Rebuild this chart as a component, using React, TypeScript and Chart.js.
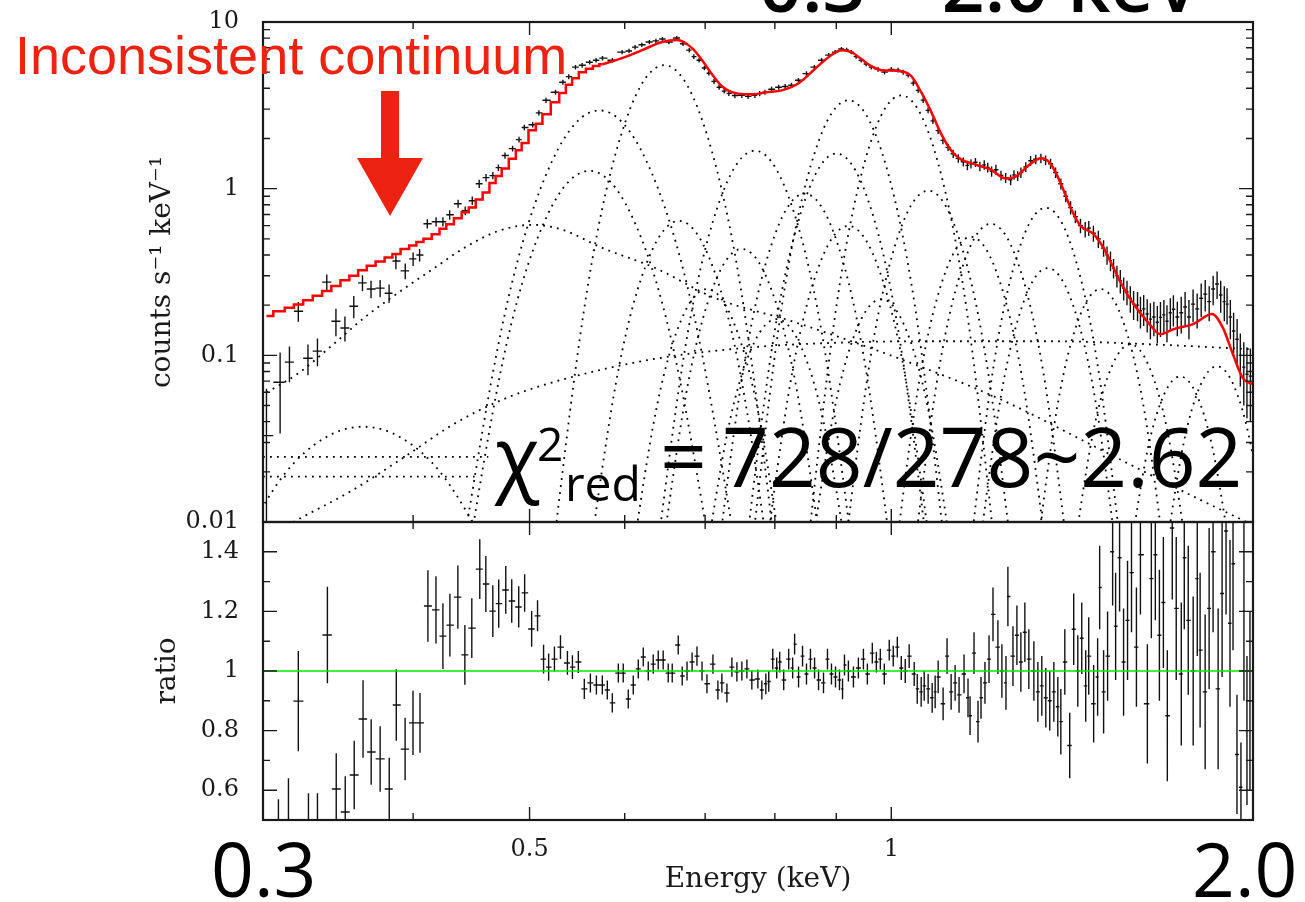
import React, { useEffect, useRef } from 'react';
import { Chart, registerables } from 'chart.js';

Chart.register(...registerables);

// ---------------- axis ranges & ticks ----------------
const energyMin = 0.3;
const energyMax = 2.0;
const rateMin = 0.01;
const rateMax = 10;
const ratioMin = 0.5;
const ratioMax = 1.5;

const energyTickValues = [0.5, 1];
const energyTickLabels = ['0.5', '1'];
const energyMinorTicks = [0.4, 0.6, 0.7, 0.8, 0.9];
const rateTickValues = [0.01, 0.1, 1, 10];
const rateTickLabels = ['0.01', '0.1', '1', '10'];
const rateMinorTicks = [0.02, 0.03, 0.04, 0.05, 0.06, 0.07, 0.08, 0.09, 0.2, 0.3, 0.4, 0.5, 0.6, 0.7, 0.8, 0.9, 2, 3, 4, 5, 6, 7, 8, 9];
const ratioTickValues = [0.6, 0.8, 1, 1.2, 1.4];
const ratioTickLabels = ['0.6', '0.8', '1', '1.2', '1.4'];
const ratioMinorTicks = [0.7, 0.9, 1.1, 1.3];

// ---------------- spectrum: [energy keV, counts s^-1 keV^-1, error] ----------------
const spectrumPoints = [
  [0.302, 0.033, 0.03], [0.310, 0.069, 0.035], [0.3156, 0.091, 0.022], [0.321, 0.184, 0.025],
  [0.327, 0.096, 0.02], [0.333, 0.106, 0.02], [0.339, 0.275, 0.03], [0.345, 0.160, 0.03],
  [0.351, 0.146, 0.025], [0.357, 0.197, 0.03], [0.363, 0.272, 0.03], [0.369, 0.250, 0.03],
  [0.3755, 0.253, 0.03], [0.382, 0.236, 0.03], [0.387, 0.368, 0.04], [0.394, 0.321, 0.035],
  [0.400, 0.379, 0.035], [0.405, 0.400, 0.035], [0.411, 0.616, 0.04], [0.418, 0.633, 0.04],
  [0.4235, 0.633, 0.04], [0.429, 0.697, 0.045], [0.436, 0.812, 0.045], [0.442, 0.737, 0.045],
  [0.448, 0.847, 0.05], [0.454, 1.07, 0.06], [0.460, 1.165, 0.06], [0.466, 1.198, 0.06],
  [0.471, 1.338, 0.06], [0.477, 1.58, 0.07], [0.484, 1.74, 0.07], [0.490, 1.97, 0.08],
  [0.495, 2.33, 0.09], [0.503, 2.42, 0.09], [0.509, 2.85, 0.1], [0.516, 3.39, 0.12],
  [0.5255, 3.79, 0.13], [0.533, 4.35, 0.15], [0.539, 4.7, 0.16], [0.546, 5.36, 0.17],
  [0.553, 5.5, 0.18], [0.561, 5.74, 0.18], [0.568, 5.9, 0.18], [0.575, 6.07, 0.19],
  [0.586, 5.9, 0.19], [0.597, 6.6, 0.2], [0.605, 6.7, 0.2], [0.612, 7.07, 0.22],
  [0.620, 7.3, 0.22], [0.629, 7.58, 0.22], [0.637, 7.7, 0.23], [0.645, 7.9, 0.23],
  [0.653, 7.58, 0.23], [0.663, 8.01, 0.24], [0.671, 7.4, 0.23], [0.679, 6.78, 0.21],
  [0.685, 6.2, 0.2], [0.692, 5.9, 0.19], [0.699, 5.3, 0.17], [0.705, 4.93, 0.16],
  [0.712, 4.4, 0.15], [0.719, 4.06, 0.14], [0.726, 3.85, 0.13], [0.7325, 3.73, 0.13],
  [0.741, 3.62, 0.13], [0.751, 3.63, 0.13], [0.760, 3.58, 0.13], [0.770, 3.63, 0.13],
  [0.777, 3.72, 0.13], [0.785, 3.79, 0.13], [0.795, 3.95, 0.14], [0.806, 4.06, 0.14],
  [0.816, 4.10, 0.14], [0.826, 4.17, 0.15], [0.837, 4.47, 0.15], [0.850, 4.9, 0.16],
  [0.863, 5.36, 0.17], [0.875, 5.9, 0.18], [0.887, 6.33, 0.19], [0.898, 6.6, 0.2],
  [0.909, 6.88, 0.2], [0.918, 6.8, 0.2], [0.926, 6.6, 0.2], [0.935, 6.2, 0.19],
  [0.944, 5.9, 0.18], [0.953, 5.6, 0.18], [0.9625, 5.36, 0.17], [0.975, 5.2, 0.17],
  [0.987, 5.0, 0.16], [1.000, 5.2, 0.17], [1.013, 5.14, 0.17], [1.023, 5.0, 0.17],
  [1.033, 4.8, 0.16], [1.043, 4.3, 0.15], [1.053, 3.89, 0.14], [1.063, 3.4, 0.13],
  [1.073, 2.95, 0.12], [1.083, 2.55, 0.11], [1.094, 2.23, 0.1], [1.104, 1.95, 0.1],
  [1.115, 1.77, 0.09], [1.126, 1.62, 0.09], [1.137, 1.52, 0.09], [1.148, 1.45, 0.09],
  [1.157, 1.38, 0.09], [1.165, 1.41, 0.09], [1.175, 1.44, 0.09], [1.185, 1.36, 0.09],
  [1.195, 1.39, 0.09], [1.203, 1.34, 0.09], [1.212, 1.27, 0.09], [1.222, 1.30, 0.09],
  [1.234, 1.20, 0.08], [1.245, 1.16, 0.08], [1.257, 1.13, 0.08], [1.265, 1.21, 0.08],
  [1.274, 1.19, 0.08], [1.282, 1.25, 0.09], [1.294, 1.35, 0.09], [1.306, 1.47, 0.1],
  [1.319, 1.50, 0.1], [1.332, 1.52, 0.1], [1.344, 1.48, 0.1], [1.357, 1.41, 0.1],
  [1.370, 1.25, 0.09], [1.384, 1.07, 0.08], [1.397, 0.90, 0.07], [1.410, 0.77, 0.07],
  [1.423, 0.68, 0.06], [1.437, 0.60, 0.06], [1.450, 0.57, 0.06], [1.460, 0.58, 0.06],
  [1.473, 0.54, 0.06], [1.487, 0.50, 0.06], [1.502, 0.44, 0.05], [1.512, 0.40, 0.05],
  [1.522, 0.37, 0.05], [1.531, 0.334, 0.045], [1.541, 0.30, 0.045], [1.551, 0.28, 0.045],
  [1.561, 0.253, 0.04], [1.571, 0.24, 0.04], [1.581, 0.22, 0.04], [1.591, 0.203, 0.04],
  [1.603, 0.20, 0.04], [1.612, 0.185, 0.04], [1.622, 0.19, 0.04], [1.633, 0.177, 0.04],
  [1.643, 0.165, 0.04], [1.654, 0.17, 0.04], [1.665, 0.158, 0.04], [1.675, 0.169, 0.04],
  [1.686, 0.175, 0.04], [1.696, 0.16, 0.04], [1.707, 0.18, 0.04], [1.717, 0.189, 0.04],
  [1.730, 0.17, 0.04], [1.743, 0.18, 0.045], [1.756, 0.195, 0.045], [1.769, 0.17, 0.045],
  [1.783, 0.203, 0.045], [1.797, 0.19, 0.045], [1.811, 0.22, 0.05], [1.825, 0.233, 0.05],
  [1.839, 0.21, 0.05], [1.853, 0.25, 0.05], [1.867, 0.268, 0.05], [1.880, 0.23, 0.05],
  [1.893, 0.21, 0.05], [1.903, 0.203, 0.05], [1.915, 0.17, 0.045], [1.927, 0.14, 0.04],
  [1.940, 0.125, 0.04], [1.952, 0.10, 0.035], [1.965, 0.085, 0.035], [1.977, 0.077, 0.035],
  [1.990, 0.075, 0.035],
];

// ---------------- model (red): stepped bins at low energy, fine bins above ----------------
const modelStepBins = [
  [0.302, 0.172], [0.310, 0.184], [0.3156, 0.193], [0.321, 0.202], [0.327, 0.214], [0.333, 0.228],
  [0.339, 0.243], [0.345, 0.261], [0.351, 0.282], [0.357, 0.300], [0.363, 0.324], [0.369, 0.345],
  [0.3755, 0.366], [0.382, 0.387], [0.387, 0.406], [0.394, 0.434], [0.400, 0.456], [0.405, 0.478],
  [0.411, 0.500], [0.418, 0.533], [0.4235, 0.575], [0.429, 0.612], [0.436, 0.664], [0.442, 0.723],
  [0.448, 0.770], [0.454, 0.86], [0.460, 0.95], [0.466, 1.08], [0.471, 1.19], [0.477, 1.32],
  [0.484, 1.51], [0.490, 1.70], [0.495, 1.88], [0.503, 2.24], [0.509, 2.45], [0.516, 2.80],
  [0.5255, 3.30], [0.533, 3.75], [0.539, 4.2], [0.546, 4.6], [0.553, 5.0], [0.561, 5.25],
  [0.568, 5.45], [0.575, 5.58],
];
const modelFine = [
  [0.575, 5.58], [0.5971, 6.07], [0.6203, 6.78], [0.6446, 7.58], [0.6633, 7.79], [0.6826, 6.97],
  [0.6959, 5.90], [0.7092, 4.86], [0.7228, 4.12], [0.7438, 3.73], [0.7655, 3.68], [0.7878, 3.79],
  [0.8106, 3.89], [0.8374, 4.29], [0.8633, 5.21], [0.8867, 6.15], [0.9090, 6.78], [0.9264, 6.60],
  [0.9443, 5.99], [0.9625, 5.43], [0.9811, 5.14], [1.019, 5.07], [1.039, 4.73], [1.059, 3.79],
  [1.080, 2.87], [1.100, 2.14], [1.122, 1.69], [1.143, 1.50], [1.176, 1.395], [1.210, 1.30],
  [1.246, 1.149], [1.269, 1.181], [1.306, 1.41], [1.332, 1.52], [1.357, 1.41], [1.384, 1.07],
  [1.410, 0.768], [1.437, 0.599], [1.473, 0.536], [1.502, 0.441], [1.531, 0.334], [1.561, 0.253],
  [1.591, 0.203], [1.633, 0.160], [1.675, 0.134], [1.717, 0.1435], [1.783, 0.154], [1.849, 0.177],
  [1.888, 0.146], [1.925, 0.101], [1.962, 0.0727], [2.0, 0.067],
];

// ---------------- model components (dotted) ----------------
const line057 = [[0.4194, 0.00082], [0.4772, 0.182], [0.5222, 1.47], [0.5715, 2.95], [0.6254, 1.47], [0.6843, 0.182], [0.7786, 0.00082]];
const line056 = [[0.4276, 0.00118], [0.4787, 0.119], [0.5181, 0.708], [0.5608, 1.28], [0.6069, 0.708], [0.6569, 0.119], [0.7355, 0.00118]];
const line065 = [[0.5027, 0.00062], [0.5585, 0.250], [0.6010, 2.54], [0.6472, 5.51], [0.6965, 2.54], [0.7496, 0.250], [0.8326, 0.00062]];
const line077 = [[0.6177, 0.00104], [0.6771, 0.137], [0.7222, 0.904], [0.7700, 1.69], [0.8209, 0.904], [0.8753, 0.137], [0.9594, 0.00104]];
const line067 = [[0.5462, 0.0016], [0.5931, 0.0835], [0.6284, 0.385], [0.6659, 0.641], [0.7055, 0.385], [0.7474, 0.0835], [0.8117, 0.0016]];
const line092 = [[0.7399, 0.00077], [0.8106, 0.195], [0.8639, 1.66], [0.9211, 3.39], [0.9820, 1.66], [1.0466, 0.195], [1.1467, 0.00077]];
const line102 = [[0.8241, 0.00075], [0.9006, 0.202], [0.9581, 1.764], [1.0193, 3.63], [1.0844, 1.764], [1.1537, 0.202], [1.2606, 0.00075]];
const line090 = [[0.7338, 0.00106], [0.7990, 0.134], [0.8484, 0.871], [0.9002, 1.625], [0.9556, 0.871], [1.0146, 0.134], [1.1049, 0.00106]];
const line107 = [[0.8903, 0.00133], [0.9623, 0.103], [1.0163, 0.555], [1.0732, 0.973], [1.1335, 0.555], [1.1969, 0.103], [1.2937, 0.00133]];
const line085 = [[0.6982, 0.00136], [0.7568, 0.101], [0.8006, 0.536], [0.8471, 0.933], [0.8962, 0.536], [0.9480, 0.101], [1.0275, 0.00136]];
const line092b = [[0.7666, 0.00165], [0.8275, 0.0806], [0.8731, 0.363], [0.9211, 0.598], [0.9716, 0.363], [1.0252, 0.0806], [1.1066, 0.00165]];
const line121 = [[1.0200, 0.00163], [1.0954, 0.0818], [1.1512, 0.372], [1.2103, 0.615], [1.2725, 0.372], [1.3372, 0.0818], [1.4362, 0.00163]];
const line134 = [[1.1355, 0.00148], [1.2181, 0.0915], [1.2797, 0.451], [1.3444, 0.768], [1.4124, 0.451], [1.4835, 0.0915], [1.5914, 0.00148]];
const line135 = [[1.1595, 0.00214], [1.2354, 0.0599], [1.2912, 0.2175], [1.3497, 0.334], [1.4108, 0.2175], [1.4746, 0.0599], [1.5707, 0.00214]];
const line158 = [[1.4001, 0.0034], [1.4728, 0.035], [1.5263, 0.0862], [1.5812, 0.1165], [1.6382, 0.0862], [1.6976, 0.035], [1.7859, 0.0034]];
const line174 = [[1.5654, 0.00413], [1.6356, 0.0279], [1.6870, 0.0584], [1.7397, 0.0747], [1.7942, 0.0584], [1.8505, 0.0279], [1.9342, 0.00413]];
const line187 = [[1.6735, 0.00388], [1.7514, 0.0299], [1.8080, 0.066], [1.8664, 0.0859], [1.9275, 0.066], [1.9898, 0.0299], [2.0826, 0.00388]];
const line117 = [[0.9856, 0.00177], [1.0566, 0.0746], [1.1095, 0.317], [1.1652, 0.514], [1.2232, 0.317], [1.2845, 0.0746], [1.3767, 0.00177]];
const line070 = [[0.5968, 0.00243], [0.6389, 0.0516], [0.6699, 0.1684], [0.7023, 0.25], [0.7365, 0.1684], [0.7722, 0.0516], [0.8266, 0.00243]];
const line080 = [[0.6896, 0.00292], [0.7346, 0.0417], [0.7679, 0.1169], [0.8027, 0.165], [0.8393, 0.1169], [0.8772, 0.0417], [0.9346, 0.00292]];
const line098 = [[0.8414, 0.00258], [0.8971, 0.0481], [0.9380, 0.1491], [0.9811, 0.2175], [1.0261, 0.1491], [1.0729, 0.0481], [1.1439, 0.00258]];
const line075 = [[0.6295, 0.0019], [0.6776, 0.0685], [0.7133, 0.274], [0.7510, 0.435], [0.7905, 0.274], [0.8322, 0.0685], [0.8960, 0.0019]];
const line149 = [[1.2986, 0.00243], [1.3761, 0.0516], [1.4335, 0.1684], [1.4934, 0.25], [1.5553, 0.1684], [1.6200, 0.0516], [1.7168, 0.00243]];
const hump036 = [[0.2812, 0.0056], [0.3130, 0.0196], [0.3373, 0.0318], [0.3634, 0.0373], [0.3917, 0.0318], [0.4221, 0.0196], [0.4699, 0.0056]];
const continuumBroad = [
  [0.3021, 0.0598], [0.3218, 0.0790], [0.3433, 0.1165], [0.3656, 0.1718], [0.3895, 0.2396], [0.4155, 0.3297],
  [0.4426, 0.4472], [0.4713, 0.5585], [0.5029, 0.6068], [0.5326, 0.5662], [0.5748, 0.441], [0.6360, 0.3343],
  [0.7135, 0.2205], [0.8262, 0.1603], [1.0193, 0.0946], [1.234, 0.0543], [1.4934, 0.0272], [1.8072, 0.0136], [2.0, 0.0096],
];
const continuumFlat = [
  [0.300, 0.0078], [0.3181, 0.0100], [0.3566, 0.0156], [0.3925, 0.0243], [0.4317, 0.0384], [0.4749, 0.0543],
  [0.5224, 0.0688], [0.6324, 0.0946], [0.7655, 0.1117], [0.9264, 0.1198], [1.1216, 0.1215], [1.357, 0.1215],
  [1.6427, 0.1165], [2.0, 0.1087],
];
const plateauHigh = [[0.300, 0.0246], [0.462, 0.0246]];
const plateauLow = [[0.300, 0.0187], [0.450, 0.0187]];

const componentSets = [
  line057, line056, line065, line077, line067, line092, line102, line090, line107, line085, line092b,
  line121, line134, line135, line158, line174, line187, line117, line070, line080, line098, line075,
  line149, hump036, continuumBroad, continuumFlat, plateauHigh, plateauLow,
];

// ---------------- ratio: [energy keV, data/model, error] ----------------
const ratioPoints = [
  [0.3090, 0.45, 0.12], [0.3150, 0.48, 0.16], [0.3210, 0.899, 0.168], [0.3273, 0.45, 0.14],
  [0.3330, 0.44, 0.15], [0.3394, 1.121, 0.162], [0.3452, 0.604, 0.12], [0.3512, 0.527, 0.12],
  [0.3573, 0.651, 0.115], [0.3634, 0.839, 0.13], [0.3691, 0.728, 0.11], [0.3755, 0.705, 0.11],
  [0.3821, 0.604, 0.105], [0.3873, 0.886, 0.12], [0.3939, 0.738, 0.105], [0.3999, 0.826, 0.108],
  [0.4053, 0.826, 0.10], [0.4115, 1.218, 0.12], [0.4179, 1.205, 0.113], [0.4235, 1.117, 0.11],
  [0.4292, 1.154, 0.105], [0.4358, 1.248, 0.106], [0.4417, 1.054, 0.10], [0.4476, 1.144, 0.10],
  [0.4545, 1.342, 0.10], [0.4598, 1.292, 0.094], [0.4660, 1.201, 0.087], [0.4713, 1.226, 0.081],
  [0.4777, 1.272, 0.08], [0.4832, 1.235, 0.073], [0.4897, 1.215, 0.069], [0.4953, 1.262, 0.063],
  [0.5020, 1.141, 0.06], [0.5077, 1.185, 0.052], [0.5136, 1.04, 0.048], [0.5186, 1.013, 0.046],
  [0.5244, 1.04, 0.042], [0.5305, 1.08, 0.04], [0.5376, 1.027, 0.04], [0.5428, 1.013, 0.04],
  [0.5490, 1.03, 0.037], [0.5553, 0.94, 0.034], [0.5618, 0.96, 0.032], [0.5683, 0.953, 0.032],
  [0.5748, 0.953, 0.032], [0.5803, 0.936, 0.032], [0.5859, 0.893, 0.032], [0.5927, 0.993, 0.032],
  [0.5983, 0.993, 0.032], [0.6041, 0.906, 0.032], [0.6099, 0.953, 0.032], [0.6158, 1.007, 0.032],
  [0.6217, 1.047, 0.032], [0.6277, 1.0, 0.032], [0.6337, 1.023, 0.032], [0.6398, 1.037, 0.032],
  [0.6459, 1.037, 0.032], [0.6522, 0.993, 0.032], [0.6572, 0.993, 0.032], [0.6648, 1.087, 0.032],
  [0.6699, 0.983, 0.032], [0.6761, 1.0, 0.032], [0.6827, 1.03, 0.032], [0.6891, 1.05, 0.032],
  [0.6958, 1.0, 0.032], [0.7024, 0.957, 0.032], [0.7105, 1.023, 0.032], [0.7173, 0.936, 0.032],
  [0.7228, 0.96, 0.032], [0.7298, 0.926, 0.032], [0.7368, 1.013, 0.032], [0.7439, 0.997, 0.032],
  [0.7510, 1.0, 0.032], [0.7583, 1.007, 0.032], [0.7655, 0.97, 0.032], [0.7744, 0.973, 0.032],
  [0.7803, 0.936, 0.032], [0.7863, 0.957, 0.035], [0.7907, 0.965, 0.035], [0.7968, 1.04, 0.035],
  [0.8029, 1.01, 0.035], [0.8075, 1.03, 0.035], [0.8137, 0.97, 0.035], [0.8215, 1.04, 0.035],
  [0.8278, 1.01, 0.035], [0.8309, 1.09, 0.035], [0.8372, 0.98, 0.035], [0.8436, 1.05, 0.035],
  [0.8500, 0.99, 0.035], [0.8565, 1.04, 0.035], [0.8633, 1.01, 0.035], [0.8699, 0.97, 0.035],
  [0.8782, 0.96, 0.035], [0.8849, 1.04, 0.035], [0.8917, 0.99, 0.035], [0.8986, 0.98, 0.035],
  [0.9055, 0.97, 0.035], [0.9108, 0.94, 0.035], [0.9142, 1.02, 0.035], [0.9211, 1.0, 0.035],
  [0.9300, 0.98, 0.035], [0.9389, 1.01, 0.035], [0.9480, 1.04, 0.035], [0.9552, 0.99, 0.035],
  [0.9643, 1.06, 0.035], [0.9718, 1.03, 0.035], [0.9792, 1.04, 0.035], [0.9867, 0.99, 0.035],
  [0.9961, 1.07, 0.035], [1.0038, 1.05, 0.035], [1.0116, 1.08, 0.035], [1.0193, 1.01, 0.04],
  [1.0271, 1.0, 0.04], [1.0349, 1.05, 0.04], [1.0449, 0.99, 0.04], [1.0510, 0.94, 0.05],
  [1.0590, 0.93, 0.05], [1.0651, 0.95, 0.05], [1.0732, 0.94, 0.05], [1.0815, 0.91, 0.05],
  [1.0877, 0.93, 0.055], [1.0940, 0.98, 0.055], [1.1044, 0.89, 0.055], [1.1128, 1.05, 0.06],
  [1.1215, 0.93, 0.06], [1.1301, 0.96, 0.06], [1.1387, 0.92, 0.06], [1.1496, 0.99, 0.065],
  [1.1584, 0.91, 0.065], [1.1629, 0.85, 0.065], [1.1718, 1.06, 0.07], [1.1808, 0.83, 0.07],
  [1.1876, 0.91, 0.07], [1.1966, 0.96, 0.07], [1.2060, 1.04, 0.08], [1.2152, 1.19, 0.09],
  [1.2267, 1.08, 0.09], [1.2361, 1.0, 0.09], [1.2458, 0.96, 0.09], [1.2504, 1.25, 0.1],
  [1.2626, 1.05, 0.1], [1.2722, 1.12, 0.1], [1.2819, 1.03, 0.1], [1.2917, 1.13, 0.1],
  [1.3016, 1.04, 0.1], [1.3142, 1.0, 0.1], [1.3243, 0.93, 0.1], [1.3344, 0.95, 0.1],
  [1.3446, 0.91, 0.1], [1.3548, 0.90, 0.1], [1.3655, 0.93, 0.1], [1.3759, 0.88, 0.1],
  [1.3839, 0.83, 0.11], [1.3945, 1.03, 0.11], [1.4077, 0.75, 0.11], [1.4185, 1.14, 0.12],
  [1.4296, 1.0, 0.12], [1.4405, 1.11, 0.12], [1.4515, 0.95, 0.12], [1.4599, 1.05, 0.13],
  [1.4737, 0.89, 0.13], [1.4850, 0.98, 0.13], [1.4908, 1.28, 0.14], [1.5021, 0.93, 0.14],
  [1.5136, 1.05, 0.15], [1.5283, 1.40, 0.18], [1.5371, 1.15, 0.18], [1.5488, 1.38, 0.18],
  [1.5607, 1.03, 0.18], [1.5726, 1.17, 0.2], [1.5846, 1.33, 0.2], [1.5996, 1.08, 0.2],
  [1.6119, 1.39, 0.2], [1.6335, 0.89, 0.2], [1.6460, 1.31, 0.2], [1.6586, 1.39, 0.22],
  [1.6716, 1.12, 0.22], [1.6844, 1.23, 0.22], [1.6972, 0.85, 0.22], [1.7133, 1.48, 0.24],
  [1.7264, 1.21, 0.24], [1.7432, 0.99, 0.24], [1.7532, 1.38, 0.24], [1.7666, 1.17, 0.25],
  [1.7834, 1.0, 0.25], [1.7974, 1.31, 0.26], [1.8072, 1.07, 0.26], [1.8248, 0.93, 0.26],
  [1.8387, 1.21, 0.27], [1.8527, 1.40, 0.27], [1.8707, 0.94, 0.27], [1.8850, 1.26, 0.28],
  [1.8993, 1.47, 0.28], [1.9138, 1.16, 0.28], [1.9249, 1.36, 0.29], [1.9395, 0.72, 0.2],
  [1.9543, 0.61, 0.15], [1.9656, 1.2, 0.3], [1.9770, 0.80, 0.25], [1.9884, 0.9, 0.3],
];
const unityLine = [[energyMin, 1], [energyMax, 1]];

// ---------------- styling ----------------
const INK = '#1a1a1a';
const SERIF = 'DejaVu Serif';
const tickFont = { family: SERIF, size: 24 };
const titleFont = { family: SERIF, size: 28 };

const toXY = (arr) => arr.map((p) => ({ x: p[0], y: p[1] }));

const noPad = (s) => {
  s.paddingTop = 0;
  s.paddingBottom = 0;
  s.paddingLeft = 0;
  s.paddingRight = 0;
};

function frameTicksPlugin(xMajor, xMinor, yMajor, yMinor) {
  return {
    id: 'frameTicks',
    afterDraw(chart) {
      const { ctx, chartArea: a } = chart;
      const sx = chart.scales.x;
      const sy = chart.scales.y;
      ctx.save();
      ctx.strokeStyle = INK;
      ctx.lineWidth = 1.4;
      ctx.beginPath();
      const xt = (v, len) => {
        const p = sx.getPixelForValue(v);
        ctx.moveTo(p, a.bottom); ctx.lineTo(p, a.bottom - len);
        ctx.moveTo(p, a.top); ctx.lineTo(p, a.top + len);
      };
      const yt = (v, len) => {
        const p = sy.getPixelForValue(v);
        ctx.moveTo(a.left, p); ctx.lineTo(a.left + len, p);
        ctx.moveTo(a.right, p); ctx.lineTo(a.right - len, p);
      };
      xMajor.forEach((v) => xt(v, 13));
      xMinor.forEach((v) => xt(v, 7));
      yMajor.forEach((v) => yt(v, 14));
      yMinor.forEach((v) => yt(v, 7));
      ctx.stroke();
      ctx.lineWidth = 2.2;
      ctx.strokeRect(a.left, a.top, a.right - a.left, a.bottom - a.top);
      ctx.restore();
    },
  };
}

function errorBarPlugin(datasetIndex, points) {
  return {
    id: 'errorBars' + datasetIndex,
    afterDatasetDraw(chart, args) {
      if (args.index !== datasetIndex) return;
      const { ctx, chartArea: a } = chart;
      const sx = chart.scales.x;
      const sy = chart.scales.y;
      const px = points.map((p) => sx.getPixelForValue(p[0]));
      const n = points.length;
      ctx.save();
      ctx.beginPath();
      ctx.rect(a.left, a.top, a.right - a.left, a.bottom - a.top);
      ctx.clip();
      ctx.strokeStyle = '#111';
      ctx.lineWidth = 1.4;
      ctx.beginPath();
      for (let i = 0; i < n; i++) {
        const [, val, err] = points[i];
        const left = i > 0 ? (px[i] - px[i - 1]) / 2 : (px[1] - px[0]) / 2;
        const right = i < n - 1 ? (px[i + 1] - px[i]) / 2 : left;
        const py = sy.getPixelForValue(val);
        const lo = val - err;
        const yLo = lo > 0 ? sy.getPixelForValue(lo) : a.bottom + 20;
        const yHi = sy.getPixelForValue(val + err);
        ctx.moveTo(px[i] - left, py); ctx.lineTo(px[i] + right, py);
        ctx.moveTo(px[i], yHi); ctx.lineTo(px[i], yLo);
      }
      ctx.stroke();
      ctx.restore();
    },
  };
}

function topConfig() {
  const datasets = [
    {
      data: toXY(modelStepBins), showLine: true, stepped: 'middle',
      borderColor: '#ff0000', borderWidth: 2.5, pointRadius: 0,
    },
    {
      data: toXY(modelFine), showLine: true, cubicInterpolationMode: 'monotone',
      borderColor: '#ff0000', borderWidth: 2.5, pointRadius: 0,
    },
    { data: toXY(spectrumPoints), showLine: false, pointRadius: 0 },
    ...componentSets.map((c) => ({
      data: toXY(c), showLine: true, cubicInterpolationMode: 'monotone',
      borderColor: '#000', borderWidth: 1.8, borderDash: [1.8, 5.2], pointRadius: 0,
    })),
  ];
  return {
    type: 'scatter',
    data: { datasets },
    options: {
      animation: false, responsive: false, devicePixelRatio: 1, events: [],
      layout: { padding: { left: 0, right: 52, top: 22, bottom: 18 } },
      elements: { line: { capBezierPoints: false } },
      plugins: { legend: { display: false }, tooltip: { enabled: false } },
      scales: {
        x: { type: 'logarithmic', min: energyMin, max: energyMax, display: false, afterFit: noPad },
        y: {
          type: 'logarithmic', min: rateMin, max: rateMax,
          grid: { display: false, drawTicks: false }, border: { display: false },
          afterBuildTicks: (s) => { s.ticks = rateTickValues.map((v) => ({ value: v })); },
          afterFit: (s) => { s.width = 263; noPad(s); },
          ticks: {
            autoSkip: false, maxRotation: 0, padding: 24, color: INK, font: tickFont,
            callback: (v, i) => rateTickLabels[i],
          },
          title: {
            display: true, text: 'counts s\u207B\u00B9 keV\u207B\u00B9', color: INK, font: titleFont,
            padding: { top: 146, bottom: 0 },
          },
        },
      },
    },
    plugins: [
      frameTicksPlugin(energyTickValues, energyMinorTicks, rateTickValues, rateMinorTicks),
      errorBarPlugin(2, spectrumPoints),
    ],
  };
}

function bottomConfig() {
  return {
    type: 'scatter',
    data: {
      datasets: [
        { data: toXY(unityLine), showLine: true, borderColor: '#00ee00', borderWidth: 1.6, pointRadius: 0 },
        { data: toXY(ratioPoints), showLine: false, pointRadius: 0 },
      ],
    },
    options: {
      animation: false, responsive: false, devicePixelRatio: 1, events: [],
      layout: { padding: { left: 0, right: 52, top: 22, bottom: 0 } },
      plugins: { legend: { display: false }, tooltip: { enabled: false } },
      scales: {
        x: {
          type: 'logarithmic', min: energyMin, max: energyMax,
          grid: { display: false, drawTicks: false }, border: { display: false },
          afterBuildTicks: (s) => { s.ticks = energyTickValues.map((v) => ({ value: v })); },
          afterFit: (s) => { s.height = 82; noPad(s); },
          ticks: {
            autoSkip: false, maxRotation: 0, padding: 15, color: INK, font: tickFont,
            callback: (v, i) => energyTickLabels[i],
          },
          title: {
            display: true, text: 'Energy (keV)', color: INK, font: titleFont,
            padding: { top: 0, bottom: 5 },
          },
        },
        y: {
          type: 'linear', min: ratioMin, max: ratioMax,
          grid: { display: false, drawTicks: false }, border: { display: false },
          afterBuildTicks: (s) => { s.ticks = ratioTickValues.map((v) => ({ value: v })); },
          afterFit: (s) => { s.width = 263; noPad(s); },
          ticks: {
            autoSkip: false, maxRotation: 0, padding: 24, color: INK, font: tickFont,
            callback: (v, i) => ratioTickLabels[i],
          },
          title: {
            display: true, text: 'ratio', color: INK, font: titleFont,
            padding: { top: 151, bottom: 0 },
          },
        },
      },
    },
    plugins: [
      frameTicksPlugin(energyTickValues, energyMinorTicks, ratioTickValues, ratioMinorTicks),
      errorBarPlugin(1, ratioPoints),
    ],
  };
}

const RED = '#ee2211';
const SANS = 'Open Sans';

export default function App() {
  const topRef = useRef(null);
  const botRef = useRef(null);

  useEffect(() => {
    const c1 = new Chart(topRef.current, topConfig());
    const c2 = new Chart(botRef.current, bottomConfig());
    return () => {
      c1.destroy();
      c2.destroy();
    };
  }, []);

  return (
    <div style={{ position: 'absolute', left: 0, top: 0, width: 1305, height: 902, background: '#fff', overflow: 'hidden' }}>
      <canvas ref={topRef} width={1305} height={540} style={{ position: 'absolute', left: 0, top: 0 }} />
      <canvas ref={botRef} width={1305} height={402} style={{ position: 'absolute', left: 0, top: 500 }} />
      <svg width={1305} height={902} style={{ position: 'absolute', left: 0, top: 0, pointerEvents: 'none' }}>
        <text x={759} y={12} fontFamily={SANS} fontSize={75} fontWeight={600} fill="#000">0.3 – 2.0 keV</text>
        <text x={15} y={74} fontFamily="Liberation Sans" fontSize={54} fill={RED}>Inconsistent continuum</text>
        <polygon points="381,91 399,91 399,158 423,158 390,216 357,158 381,158" fill={RED} />
        <text fontFamily={SANS} fill="#000">
          <tspan x={495} y={486} fontSize={82}>χ</tspan>
          <tspan x={537} y={461} fontSize={46}>2</tspan>
          <tspan x={565} y={501} fontSize={48}>red</tspan>
          <tspan x={660} y={486} fontSize={82}>=</tspan>
          <tspan x={722} y={487} fontSize={82}>728/278~2.62</tspan>
        </text>
        <text x={211} y={897} fontFamily={SANS} fontSize={75} fill="#000">0.3</text>
        <text x={1192} y={897} fontFamily={SANS} fontSize={75} fill="#000">2.0</text>
      </svg>
    </div>
  );
}
